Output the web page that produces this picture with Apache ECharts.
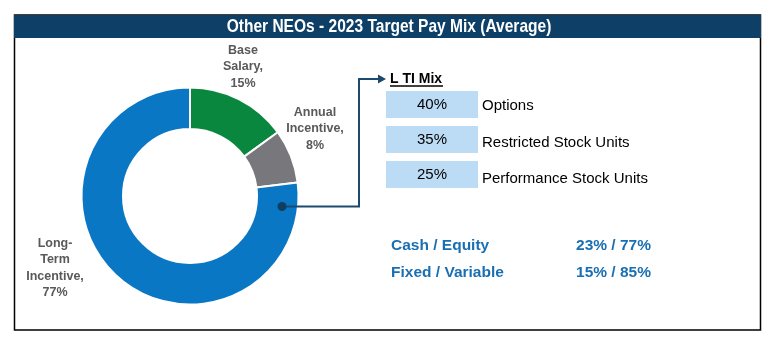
<!DOCTYPE html>
<html>
<head>
<meta charset="utf-8">
<script src="https://cdn.jsdelivr.net/npm/echarts@6/dist/echarts.min.js"></script>
<style>
    html, body { margin: 0; padding: 0; background: #fff; }
    #chart { width: 781px; height: 351px; }
</style>
</head>
<body>
<div id="chart"></div>
<script>
// 饼图数据
const slices = ['Base Salary', 'Annual Incentive', 'Long-Term Incentive']
const sliceLabels = ['Base\nSalary', 'Annual\nIncentive', 'Long-\nTerm\nIncentive']
const sliceValues = [15, 8, 77]
// LTI 组成
const ltiPct = ['40%', '35%', '25%']
const ltiTypes = ['Options', 'Restricted Stock Units', 'Performance Stock Units']
// 底部比例
const ratioNames = ['Cash / Equity', 'Fixed / Variable']
const ratioValues = ['23% / 77%', '15% / 85%']

const colors = ['#0a873f', '#78787c', '#0a77c5'] // 绿 灰 蓝
const arial = "'Liberation Sans', Arial, sans-serif"
const labelPos = [[243, 67], [315, 129], [55, 268]] // 标签中心

const chart = echarts.init(document.getElementById('chart'))

const graphics = [
    // 外框
    { type: 'rect', z: 1, shape: { x: 14.5, y: 15, width: 746, height: 315 }, style: { fill: 'none', stroke: '#000', lineWidth: 1.5 } },
    // 标题栏
    { type: 'rect', z: 1, shape: { x: 14, y: 15, width: 747, height: 23 }, style: { fill: '#0e3f66' } },
    { type: 'text', z: 2, x: 389, y: 27, scaleX: 0.84, style: { text: 'Other NEOs - 2023 Target Pay Mix (Average)', fill: '#fff', font: 'bold 18.5px ' + arial, align: 'center', verticalAlign: 'middle' } },
    // 连接线 + 箭头
    { type: 'polyline', z: 20, shape: { points: [[282, 206.5], [359, 206.5], [359, 79], [381, 79]] }, style: { stroke: '#1b4a6e', lineWidth: 2, fill: 'none' } },
    { type: 'polygon', z: 20, shape: { points: [[386, 79], [378, 74.5], [378, 83.5]] }, style: { fill: '#1b4a6e' } },
    { type: 'circle', z: 21, shape: { cx: 282, cy: 206.5, r: 4.5 }, style: { fill: '#0f3e63' } },
    // LTI Mix 标题
    { type: 'text', z: 2, x: 390, y: 79, style: { text: 'L TI Mix', fill: '#000', font: 'bold 14px ' + arial, verticalAlign: 'middle' } },
    { type: 'line', z: 2, shape: { x1: 390, y1: 86, x2: 443, y2: 86 }, style: { stroke: '#000', lineWidth: 1.5 } }
]

ltiPct.forEach((p, i) => {
    const y = 91 + i * 35
    graphics.push({ type: 'rect', z: 1, shape: { x: 386, y: y, width: 92, height: 27 }, style: { fill: '#bcdcf5' } })
    graphics.push({ type: 'text', z: 2, x: 432, y: y + 14, style: { text: p, fill: '#000', font: '15px ' + arial, align: 'center', verticalAlign: 'middle' } })
    graphics.push({ type: 'text', z: 2, x: 482, y: y + 15 + i * 1.5, style: { text: ltiTypes[i], fill: '#000', font: '15px ' + arial, verticalAlign: 'middle' } })
})

ratioNames.forEach((n, i) => {
    const y = 246 + i * 27
    graphics.push({ type: 'text', z: 2, x: 391, y: y, style: { text: n, fill: '#1a6fb3', font: 'bold 15.5px ' + arial, verticalAlign: 'middle' } })
    graphics.push({ type: 'text', z: 2, x: 651, y: y, style: { text: ratioValues[i], fill: '#1a6fb3', font: 'bold 15.5px ' + arial, align: 'right', verticalAlign: 'middle' } })
})

const option = {
    animation: false,
    backgroundColor: '#fff',
    graphic: { elements: graphics },
    series: [
        {
            type: 'pie',
            center: [190, 196],
            radius: [67, 108.5],
            startAngle: 90,
            clockwise: true,
            silent: true,
            z: 5,
            itemStyle: { borderColor: '#fff', borderWidth: 2 },
            label: {
                show: true,
                formatter: (p) => sliceLabels[p.dataIndex] + ',\n' + p.value + '%',
                color: '#595959',
                fontFamily: arial,
                fontWeight: 'bold',
                fontSize: 12.5,
                lineHeight: 16.5,
                align: 'center',
                overflow: 'none',
                width: 120
            },
            labelLine: { show: false },
            labelLayout: (params) => ({
                x: labelPos[params.dataIndex][0],
                y: labelPos[params.dataIndex][1],
                align: 'center',
                verticalAlign: 'middle'
            }),
            data: slices.map((name, i) => ({ name, value: sliceValues[i], itemStyle: { color: colors[i] } }))
        }
    ]
}
chart.setOption(option)
</script>
</body>
</html>
